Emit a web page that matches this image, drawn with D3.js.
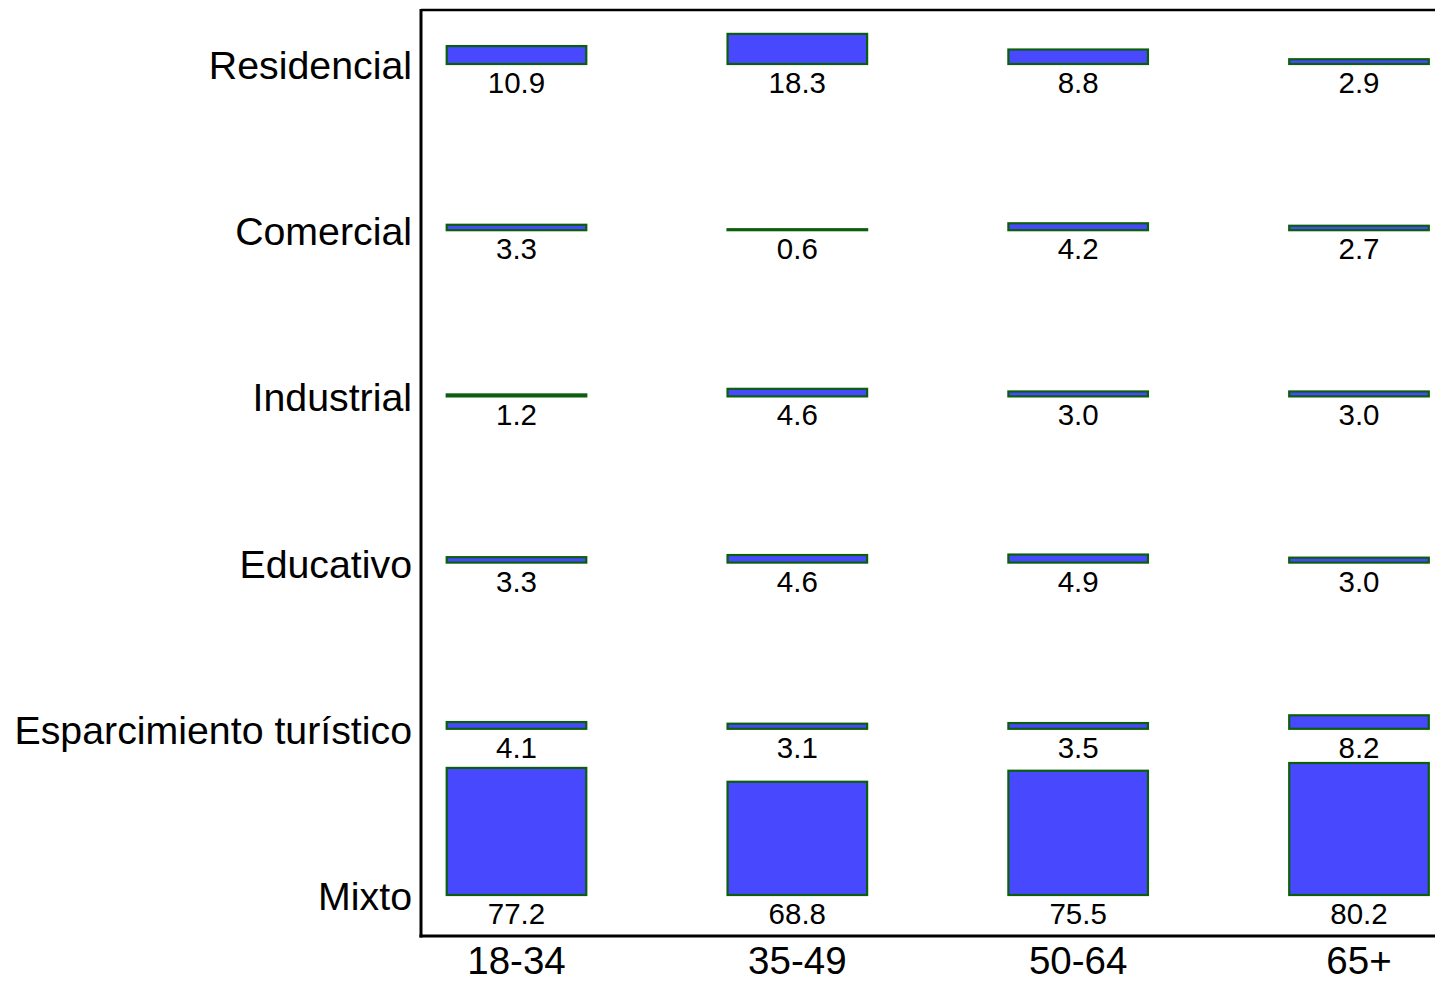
<!DOCTYPE html>
<html>
<head>
<meta charset="utf-8">
<script src="https://cdn.jsdelivr.net/npm/d3@7"></script>
<style>
  html, body { margin: 0; padding: 0; background: #fff; }
  svg { display: block; font-family: "Liberation Sans", Arial, Helvetica, sans-serif; }
</style>
</head>
<body>
<svg id="chart" width="1435" height="981"></svg>
<script>
const categories = ["Residencial", "Comercial", "Industrial", "Educativo", "Esparcimiento turístico", "Mixto"];
const ageGroups = ["18-34", "35-49", "50-64", "65+"];
const values18_34 = [10.9, 3.3, 1.2, 3.3, 4.1, 77.2];
const values35_49 = [18.3, 0.6, 4.6, 4.6, 3.1, 68.8];
const values50_64 = [8.8, 4.2, 3.0, 4.9, 3.5, 75.5];
const values65 = [2.9, 2.7, 3.0, 3.0, 8.2, 80.2];
const seriesValues = [values18_34, values35_49, values50_64, values65];

(function () {
  const cells = [];
  ageGroups.forEach((g, gi) => {
    categories.forEach((c, ci) => {
      cells.push({ group: g, category: c, value: seriesValues[gi][ci] });
    });
  });

  const svg = d3.select("#chart");
  const frameLeft = 421, frameTop = 10, frameBottom = 936, frameRight = 1435;

  const x = d3.scalePoint().domain(ageGroups).range([516.5, 1359]);
  const y = d3.scalePoint().domain(categories).range([64, 895]);
  const h = d3.scaleLinear().domain([0, 100]).range([0, 164.6]);
  const barW = x.step() * 0.497;

  // frame
  svg.append("line").attr("x1", frameLeft).attr("x2", frameRight).attr("y1", frameTop).attr("y2", frameTop)
    .attr("stroke", "#000").attr("stroke-width", 2.5);
  svg.append("line").attr("x1", frameLeft).attr("x2", frameLeft).attr("y1", frameTop - 1).attr("y2", frameBottom + 1.5)
    .attr("stroke", "#000").attr("stroke-width", 3);
  svg.append("line").attr("x1", frameLeft - 1.5).attr("x2", frameRight).attr("y1", frameBottom).attr("y2", frameBottom)
    .attr("stroke", "#000").attr("stroke-width", 3);

  // bars
  svg.append("g").selectAll("rect").data(cells).join("rect")
    .attr("x", d => x(d.group) - barW / 2)
    .attr("y", d => y(d.category) - h(d.value))
    .attr("width", barW)
    .attr("height", d => h(d.value))
    .attr("fill", "#4848ff")
    .attr("stroke", "#0b5e0b")
    .attr("stroke-width", 2.2);

  // value labels
  svg.append("g").selectAll("text").data(cells).join("text")
    .attr("x", d => x(d.group))
    .attr("y", d => y(d.category) + 29)
    .attr("text-anchor", "middle")
    .attr("font-size", 29.5)
    .attr("fill", "#000")
    .text(d => d.value.toFixed(1));

  // row labels
  svg.append("g").selectAll("text").data(categories).join("text")
    .attr("x", 412)
    .attr("y", d => y(d) + 15)
    .attr("text-anchor", "end")
    .attr("font-size", 39.3)
    .attr("fill", "#000")
    .text(d => d);

  // x labels
  svg.append("g").selectAll("text").data(ageGroups).join("text")
    .attr("x", d => x(d))
    .attr("y", 974)
    .attr("text-anchor", "middle")
    .attr("font-size", 38.5)
    .attr("fill", "#000")
    .text(d => d);
})();
</script>
</body>
</html>
